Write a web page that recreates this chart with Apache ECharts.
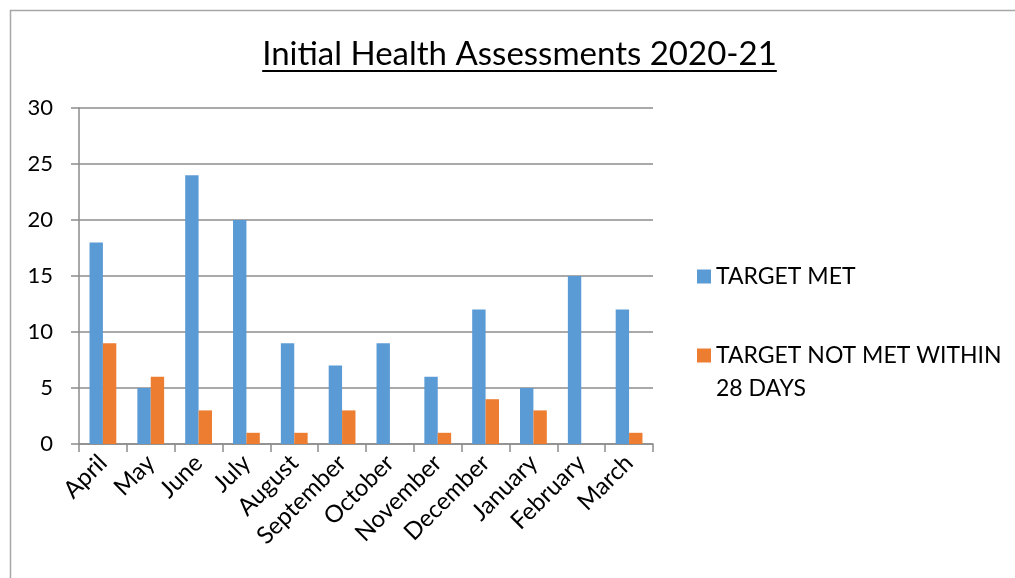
<!DOCTYPE html>
<html>
<head>
<meta charset="utf-8">
<script src="https://cdn.jsdelivr.net/npm/echarts@6/dist/echarts.min.js"></script>
<style>
  html, body { margin: 0; padding: 0; background: #fff; }
  #chart { width: 1015px; height: 578px; }
</style>
</head>
<body>
<div id="chart"></div>
<script>
var titleText = 'Initial Health Assessments 2020-21';
var months = ['April', 'May', 'June', 'July', 'August', 'September', 'October', 'November', 'December', 'January', 'February', 'March'];
var targetMet = [18, 5, 24, 20, 9, 7, 9, 6, 12, 5, 15, 12];
var targetNotMet = [9, 6, 3, 1, 1, 3, 0, 1, 4, 3, 0, 1];
var seriesNames = ['TARGET MET', 'TARGET NOT MET WITHIN 28 DAYS'];

var font = 'Lato, "Noto Sans", sans-serif';
var gridColor = '#8c8c8c';

// measure title so the underline fits it
var ctx = document.createElement('canvas').getContext('2d');
ctx.font = '33px Lato';
var titleW = ctx.measureText(titleText).width;
var titleCx = 519.5;

var myChart = echarts.init(document.getElementById('chart'));
var option = {
    backgroundColor: '#fff',
    animation: false,
    title: {
        text: titleText,
        left: titleCx - titleW / 2,
        top: 38,
        padding: 0,
        textStyle: { fontFamily: font, fontSize: 33, fontWeight: 'normal', color: '#000' }
    },
    graphic: [
        {
            type: 'rect',
            shape: { x: 10.5, y: 10.5, width: 1100, height: 1000 },
            style: { fill: 'none', stroke: '#a6a6a6', lineWidth: 1.5 },
            silent: true
        },
        {
            type: 'line',
            shape: { x1: titleCx - titleW / 2, y1: 71, x2: titleCx + titleW / 2, y2: 71 },
            style: { stroke: '#000', lineWidth: 1.8 },
            silent: true
        }
    ],
    legend: [
        {
            data: [seriesNames[0]],
            left: 697,
            top: 260,
            padding: 0,
            itemWidth: 14,
            itemHeight: 14,
            icon: 'rect',
            textStyle: { fontFamily: font, fontSize: 23, color: '#000', lineHeight: 33 }
        },
        {
            data: [seriesNames[1]],
            left: 697,
            top: 306,
            padding: 0,
            itemWidth: 14,
            itemHeight: 14,
            icon: 'rect',
            // blank first line so the icon sits level with the first text line
            formatter: function () { return ' \nTARGET NOT MET WITHIN\n28 DAYS'; },
            textStyle: { fontFamily: font, fontSize: 23, color: '#000', lineHeight: 33 }
        }
    ],
    grid: { left: 79, right: 362, top: 108, bottom: 134, containLabel: false },
    xAxis: {
        type: 'category',
        data: months,
        axisLine: { lineStyle: { color: gridColor, width: 1.5 } },
        axisTick: { show: true, length: 8, lineStyle: { color: gridColor, width: 1.5 } },
        axisLabel: { rotate: 45, margin: 15, fontFamily: font, fontSize: 24, color: '#000', interval: 0 }
    },
    yAxis: {
        type: 'value',
        min: 0,
        max: 30,
        interval: 5,
        axisLine: { show: true, lineStyle: { color: gridColor, width: 1.5 } },
        axisTick: { show: true, length: 8, lineStyle: { color: gridColor, width: 1.5 } },
        axisLabel: { margin: 26, fontFamily: font, fontSize: 22, color: '#000' },
        splitLine: { lineStyle: { color: gridColor, width: 1.5 } }
    },
    series: [
        {
            name: seriesNames[0],
            type: 'bar',
            data: targetMet,
            barGap: '0%',
            barCategoryGap: '44%',
            itemStyle: { color: '#5b9bd5' }
        },
        {
            name: seriesNames[1],
            type: 'bar',
            data: targetNotMet,
            barGap: '0%',
            barCategoryGap: '44%',
            itemStyle: { color: '#ed7d31' }
        }
    ]
};
myChart.setOption(option);
window.addEventListener('resize', function () { myChart.resize(); });
</script>
</body>
</html>
